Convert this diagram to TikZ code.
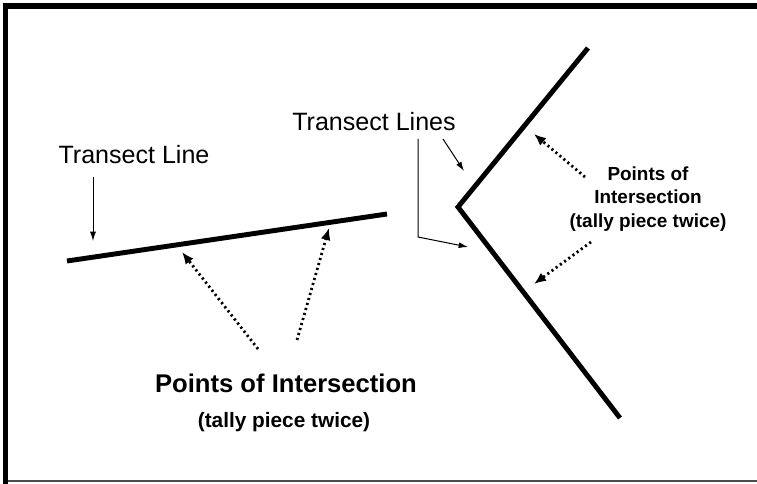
\documentclass[tikz,border=0pt]{standalone}
\usepackage{fontspec}
\setmainfont{Liberation Sans}
\usetikzlibrary{arrows.meta}
\begin{document}
\begin{tikzpicture}[x=0.75pt,y=-0.75pt,
  transect/.style={line width=3.7pt, line cap=butt, line join=miter},
  pointer/.style={line width=0.75pt, -{Latex[length=7pt,width=4.5pt]}},
  dotarrow/.style={line width=2.1pt, dash pattern=on 1.6pt off 2.3pt, -{Latex[length=9pt,width=7.5pt]}},
  lbl/.style={font=\fontsize{18.8}{22}\selectfont, inner sep=0pt},
  bigbold/.style={font=\fontsize{19.2}{23}\selectfont\bfseries, inner sep=0pt},
  midbold/.style={font=\fontsize{15.6}{19}\selectfont\bfseries, inner sep=0pt},
  smallbold/.style={font=\fontsize{14.2}{17.6}\selectfont\bfseries, inner sep=0pt, align=center}
]
\useasboundingbox (0,0) rectangle (757,484);
% frame
\fill[black] (3,3) rectangle (757,9.5);
\fill[black] (3,3) rectangle (7.5,484);
\draw[black!70, line width=0.9pt] (7.5,481) -- (757,481);

% transect lines
\coordinate (L1) at (67,261);
\coordinate (L2) at (387,214);
\draw[transect] (L1) -- (L2);
\coordinate (V1) at (588,48);
\coordinate (V2) at (458,207);
\coordinate (V3) at (620,418);
\draw[transect] (V1) -- (V2) -- (V3);

% labels
\node[lbl] (tl) at (134,155) {Transect Line};
\node[lbl] (tls) at (374,122) {Transect Lines};
\node[smallbold] (rpi) at (648,199) {Points of\\Intersection\\(tally piece twice)};
\node[bigbold] (bpi) at (286,383) {Points of Intersection};
\node[midbold] (btp) at (284,422) {(tally piece twice)};

% thin pointers
\coordinate (a1s) at (93,177);
\coordinate (a1e) at (93,241);
\draw[pointer] (a1s) -- (a1e);
\coordinate (a2s) at (443,139);
\coordinate (a2e) at (464,171);
\draw[pointer] (a2s) -- (a2e);
\coordinate (a3s) at (418,139);
\coordinate (a3m) at (418,237);
\coordinate (a3e) at (468,247);
\draw[pointer] (a3s) -- (a3m) -- (a3e);

% dotted arrows
\coordinate (d1s) at (258,349);
\coordinate (d1e) at (182,252);
\draw[dotarrow] (d1s) -- (d1e);
\coordinate (d2s) at (297,340);
\coordinate (d2e) at (329,228);
\draw[dotarrow] (d2s) -- (d2e);
\coordinate (d3s) at (585,177);
\coordinate (d3e) at (534,134);
\draw[dotarrow] (d3s) -- (d3e);
\coordinate (d4s) at (591,242);
\coordinate (d4e) at (534,284);
\draw[dotarrow] (d4s) -- (d4e);
\end{tikzpicture}
\end{document}
